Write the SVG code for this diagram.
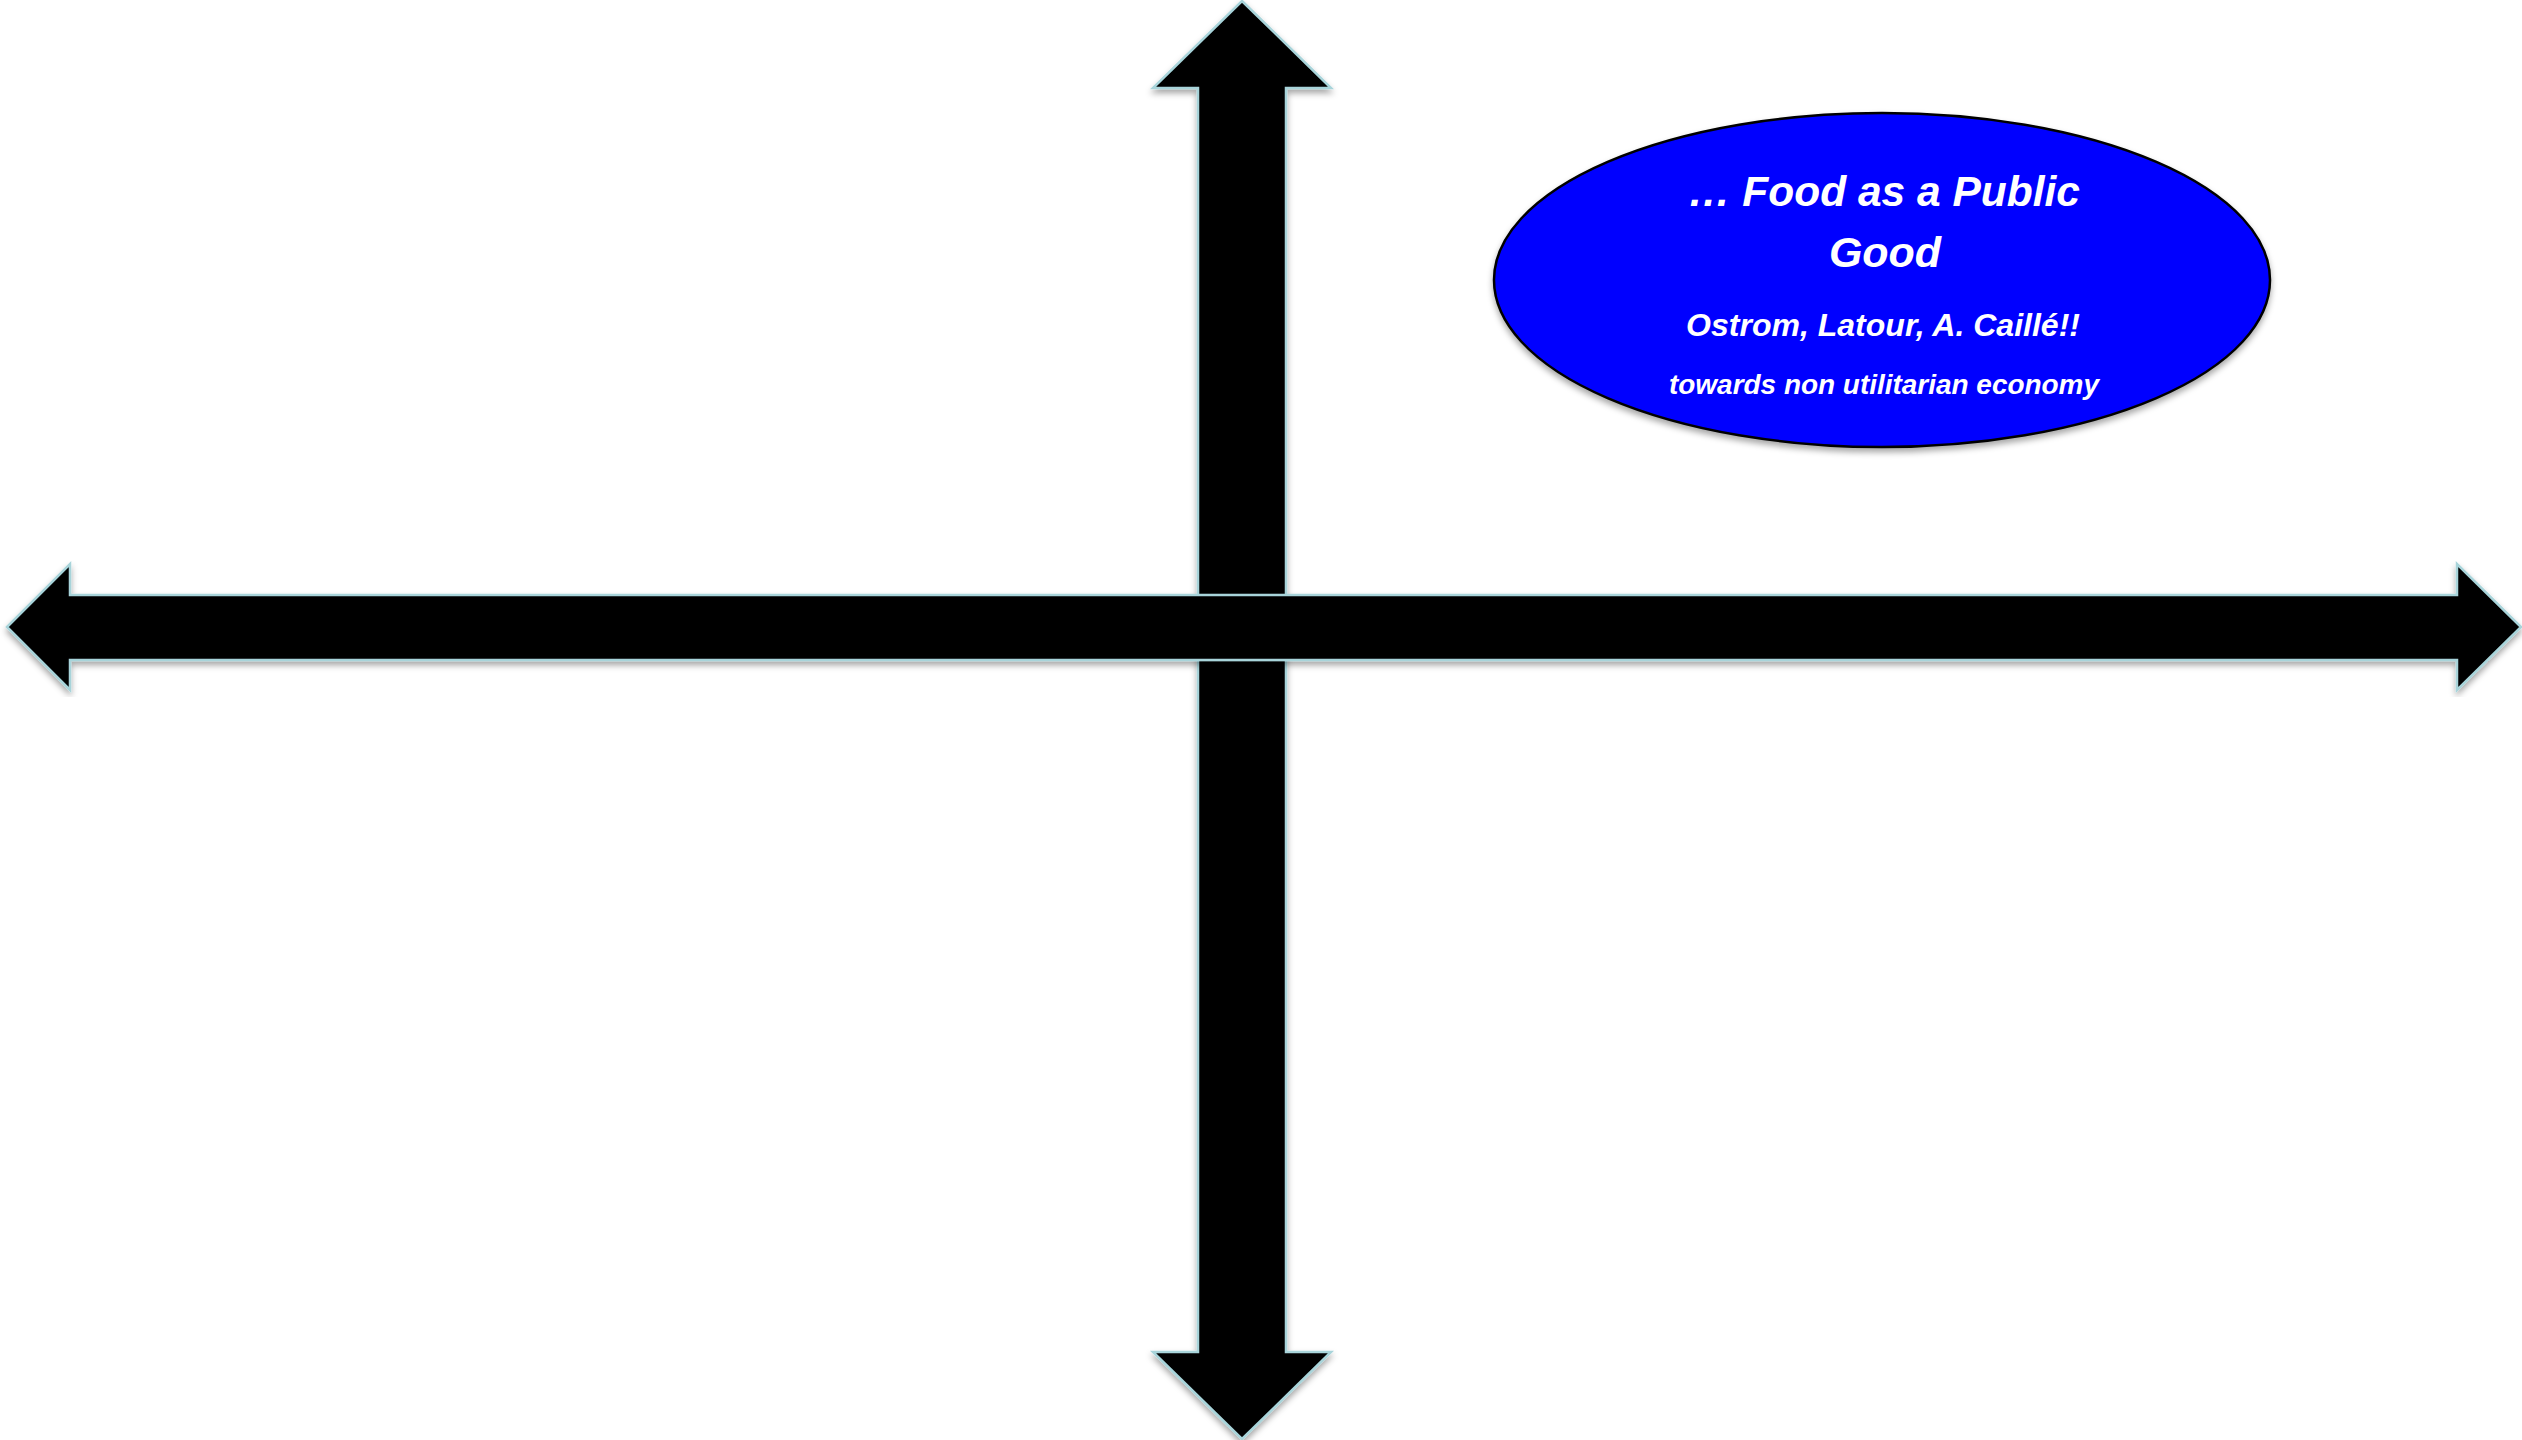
<svg xmlns="http://www.w3.org/2000/svg" width="2522" height="1440" viewBox="0 0 2522 1440">
<defs>
<filter id="sh" x="-5%" y="-5%" width="110%" height="110%">
<feDropShadow dx="0" dy="4" stdDeviation="3" flood-color="#000" flood-opacity="0.35"/>
</filter>
<style>
.arrow{fill:#000;stroke:#a8d4da;stroke-width:2.5;stroke-linejoin:miter}
.t{fill:#fff;font-family:"Liberation Sans",Arial,sans-serif;font-weight:bold;font-style:italic;text-anchor:middle}
</style>
</defs>
<rect width="2522" height="1440" fill="#fff"/>
<g id="connectors">
<g id="vertical-arrow" filter="url(#sh)">
<polygon class="arrow" points="1242,1 1331,88 1286,88 1286,1352 1331,1352 1242,1439 1153,1352 1198,1352 1198,88 1153,88"/>
</g>
<g id="horizontal-arrow" filter="url(#sh)">
<polygon class="arrow" points="7,627 70,564 70,595 2457,595 2457,564 2521,627 2457,690 2457,660 70,660 70,690"/>
</g>
</g>
<g id="node-public-good">
<ellipse cx="1882" cy="280" rx="388" ry="167" fill="#0000ff" stroke="#000" stroke-width="2.5" filter="url(#sh)"/>
<text class="t" x="1884" y="206" font-size="43" textLength="392" lengthAdjust="spacingAndGlyphs">… Food as a Public</text>
<text class="t" x="1885" y="267" font-size="43">Good</text>
<text class="t" x="1883" y="336" font-size="31" textLength="394" lengthAdjust="spacingAndGlyphs">Ostrom, Latour, A. Caillé!!</text>
<text class="t" x="1884" y="394" font-size="27" textLength="430" lengthAdjust="spacingAndGlyphs">towards non utilitarian economy</text>
</g>
</svg>
